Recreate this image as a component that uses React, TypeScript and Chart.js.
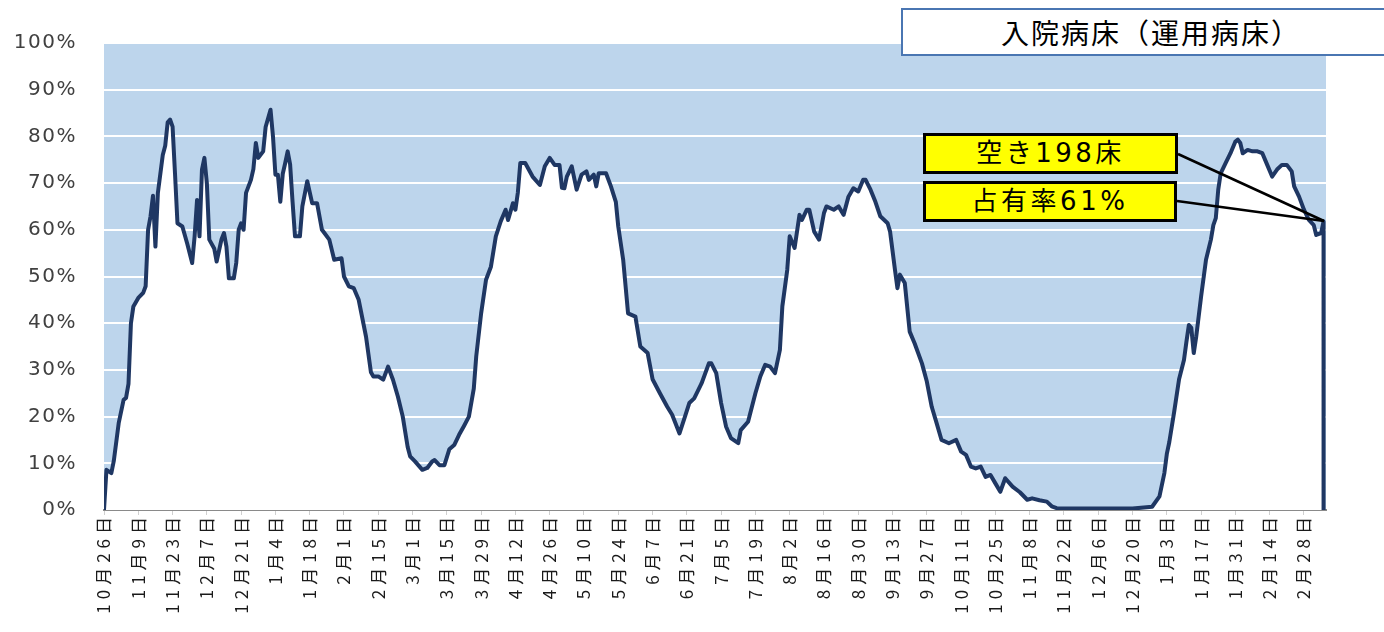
import React, { useEffect, useRef } from 'react';
import { Chart, registerables } from 'chart.js';

Chart.register(...registerables);

const tickLabels = [
  '10月26日', '11月9日', '11月23日', '12月7日', '12月21日', '1月4日', '1月18日', '2月1日', '2月15日',
  '3月1日', '3月15日', '3月29日', '4月12日', '4月26日', '5月10日', '5月24日', '6月7日', '6月21日',
  '7月5日', '7月19日', '8月2日', '8月16日', '8月30日', '9月13日', '9月27日', '10月11日', '10月25日',
  '11月8日', '11月22日', '12月6日', '12月20日', '1月3日', '1月17日', '1月31日', '2月14日', '2月28日',
];
const tickStepDays = 14;
const lastDay = 499;

const yTicks = [0, 10, 20, 30, 40, 50, 60, 70, 80, 90, 100];

// day offset from 10月26日
const dayIndex = [
  0, 1, 3, 4, 6, 8, 9, 10, 11, 12, 14, 16, 17, 18, 19, 20, 21, 22, 24, 25, 26, 27, 28, 29, 30, 32, 34, 36, 37, 38, 39, 40, 41, 42, 43, 45, 46, 48, 49, 50,
  51, 53, 54, 55, 56, 57, 58, 60, 61, 62, 63, 65, 66, 68, 69, 70, 71, 72, 73, 74, 75, 76, 77, 78, 80, 81, 83, 85, 87, 89,
  90, 92, 94, 97, 98, 100, 102, 104, 107, 109, 110, 112, 114, 116, 118, 120, 122, 124, 125, 127, 130, 132, 134, 135, 137, 139,
  141, 143, 145, 147, 149, 150, 151, 152, 154, 156, 158, 160, 162, 164, 165, 167, 168, 169, 170, 172, 175, 178, 180, 182, 184, 186,
  187, 188, 189, 191, 193, 195, 197, 198, 200, 201, 202, 205, 207, 209, 210, 212, 214, 217, 219, 222, 224, 227, 230, 232, 235, 237,
  239, 241, 244, 247, 248, 250, 252, 254, 256, 259, 260, 263, 266, 268, 270, 272, 274, 276, 277, 279, 280, 282, 284, 285, 287, 288,
  290, 292, 294, 295, 298, 300, 302, 304, 306, 308, 310, 311, 313, 315, 317, 320, 321, 323, 324, 325, 327, 329, 331, 334, 336, 338,
  340, 342, 345, 348, 350, 352, 354, 356, 358, 360, 362, 364, 366, 368, 371, 374, 377, 379, 382, 385, 387, 389, 395, 400, 410, 420,
  428, 431, 433, 434, 435, 437, 439, 441, 442, 443, 444, 445, 446, 448, 450, 452, 453, 454, 455, 456, 458, 460, 462, 463, 464, 465,
  467, 469, 471, 473, 475, 477, 479, 481, 483, 485, 486, 488, 490, 492, 494, 495, 497, 498, 498,
];

// 病床占有率 (%)
const occupancy = [
  0, 8.6, 7.9, 10.5, 18.6, 23.6, 24, 27, 40, 43.6, 45.4, 46.5, 47.9, 60, 62.9, 67.3, 56.4, 67.9, 76, 78, 83, 83.6, 82.1, 72, 61.4, 60.7, 57, 52.9, 58.6, 66.4, 58.6, 72.9, 75.4, 70, 57.9, 56, 53.2, 58, 59.3, 56.4,
  49.6, 49.6, 52.9, 60, 61.4, 60, 67.9, 70.7, 73, 78.6, 75.4, 76.8, 82, 85.7, 80, 71.8, 71.8, 66, 72, 74.3, 76.8, 74, 66, 58.6, 58.6, 65, 70.4, 65.7, 65.7, 60,
  59.3, 57.9, 53.6, 53.9, 50, 47.9, 47.5, 45, 37.1, 29.5, 28.6, 28.6, 27.9, 30.7, 27.9, 24.3, 20, 13.5, 11.5, 10.4, 8.6, 9, 10.4, 10.7, 9.6, 9.6,
  13, 13.9, 16.1, 18, 20, 23, 26, 32.9, 42.1, 49.3, 52.1, 58.6, 61.8, 64.3, 62.1, 65.7, 64.3, 68, 74.3, 74.3, 71.4, 69.6, 73.6, 75.4, 73.9, 73.9,
  69, 68.9, 71.4, 73.6, 68.6, 71.8, 72.5, 70.7, 71.8, 69.3, 72.1, 72.1, 69.3, 66, 60.7, 53.6, 42.1, 41.4, 35, 33.6, 28, 25, 22.1, 20.4, 16.4, 19.6,
  22.9, 23.9, 27.1, 31.4, 31.4, 29.3, 22.9, 17.9, 15.4, 14.3, 17.1, 18.9, 25, 28.6, 31.1, 30.7, 29.3, 34.3, 43.6, 51.4, 58.6, 56.1, 63.2, 62.1, 64.3, 64.3,
  59.6, 57.9, 63.6, 65, 64.3, 65, 63.2, 67.1, 68.9, 68.2, 70.7, 70.7, 68.6, 66, 62.9, 61.4, 59.6, 51.4, 47.5, 50.4, 48.6, 38.2, 35.7, 31.4, 27.5, 22.1,
  18.6, 15, 14.3, 15, 12.5, 11.8, 9.3, 8.9, 9.3, 7.1, 7.5, 5.7, 3.9, 6.8, 5, 3.8, 2.2, 2.5, 2.1, 1.8, 0.8, 0.4, 0.3, 0.3, 0.3, 0.3,
  0.7, 2.9, 7.9, 12, 14.5, 21, 28, 32.1, 36, 39.6, 39, 33.6, 37.1, 45.7, 53.6, 57.9, 61, 62.5, 68.6, 72.1, 74.3, 76.4, 78.9, 79.3, 78.6, 76.4,
  77.1, 76.8, 76.8, 76.4, 73.9, 71.4, 72.9, 73.9, 73.9, 72.5, 69.3, 67.1, 64.3, 62.1, 61, 58.9, 59.3, 61.8, 0,
];

const titleText = '入院病床（運用病床）';
const vacantText = '空き198床';
const rateText = '占有率61%';

const plotBackground = {
  id: 'plotBackground',
  beforeDraw(chart: any) {
    const { ctx, chartArea } = chart;
    if (!chartArea) return;
    ctx.save();
    ctx.fillStyle = '#bdd5ec';
    ctx.fillRect(chartArea.left, chartArea.top, chartArea.right - chartArea.left, chartArea.bottom - chartArea.top);
    ctx.restore();
  },
};

// draw a scale's tick labels with extra letter spacing
function spaceLabels(s: any, spacing: string) {
  if (s.__spaced) return;
  const orig = s.drawLabels.bind(s);
  s.drawLabels = (area: any) => {
    const ctx = s.ctx;
    const prev = ctx.letterSpacing;
    ctx.letterSpacing = spacing;
    orig(area);
    ctx.letterSpacing = prev;
  };
  s.__spaced = true;
}

function OccupancyChart() {
  const ref = useRef<HTMLCanvasElement | null>(null);
  useEffect(() => {
    if (!ref.current) return;
    const points = dayIndex.map((d, i) => ({ x: d, y: occupancy[i] }));
    const chart = new Chart(ref.current, {
      type: 'line',
      data: {
        datasets: [
          {
            data: points,
            borderColor: '#1f3763',
            borderWidth: 4,
            backgroundColor: '#ffffff',
            fill: 'origin',
            pointRadius: 0,
            tension: 0,
            borderJoinStyle: 'round',
            borderCapStyle: 'round',
          },
        ],
      },
      options: {
        responsive: false,
        animation: false,
        layout: { padding: { top: 43, right: 58, left: 0, bottom: 0 } },
        plugins: { legend: { display: false }, tooltip: { enabled: false } },
        scales: {
          x: {
            type: 'linear',
            min: 0,
            max: lastDay,
            afterBuildTicks: (s: any) => {
              s.ticks = tickLabels.map((_, i) => ({ value: i * tickStepDays }));
            },
            afterFit: (s: any) => {
              s.height = 122;
              spaceLabels(s, '5px');
            },
            ticks: {
              autoSkip: false,
              minRotation: 90,
              maxRotation: 90,
              padding: -3,
              color: '#1a1a1a',
              font: { family: '"Noto Sans CJK JP", sans-serif', size: 17 },
              callback: (v: any) => tickLabels[Math.round(Number(v) / tickStepDays)] ?? '',
            },
            grid: { drawOnChartArea: false, drawTicks: true, tickLength: 5, color: '#d0d0d0' },
            border: { display: true, color: '#8a8a8a', width: 2 },
          },
          y: {
            min: 0,
            max: 100,
            afterBuildTicks: (s: any) => {
              s.ticks = yTicks.map((v) => ({ value: v }));
            },
            afterFit: (s: any) => {
              s.width = 104;
              spaceLabels(s, '1.5px');
            },
            ticks: {
              padding: 27,
              color: '#404040',
              font: { family: '"DejaVu Sans", sans-serif', size: 20 },
              callback: (v: any) => `${v}%`,
            },
            grid: { color: '#ffffff', lineWidth: 2, drawTicks: false },
            border: { display: false },
          },
        },
      },
      plugins: [plotBackground],
    });
    return () => chart.destroy();
  }, []);
  return <canvas ref={ref} width={1384} height={632} style={{ position: 'absolute', left: 0, top: 0 }} />;
}

export default function App() {
  const jp = '"DejaVu Sans", "Noto Sans CJK JP", sans-serif';
  return (
    <div style={{ position: 'fixed', left: 0, top: 0, width: 1384, height: 632, overflow: 'hidden', background: '#fff' }}>
      <OccupancyChart />
      <div
        style={{
          position: 'absolute', left: 901, top: 8, width: 500, height: 48, boxSizing: 'border-box',
          border: '2px solid #4a76b2', background: '#fff', paddingLeft: 98,
          fontFamily: '"Noto Sans CJK JP", sans-serif', fontSize: 28, lineHeight: '44px', color: '#000',
          whiteSpace: 'nowrap', letterSpacing: 2,
        }}
      >
        {titleText}
      </div>
      <svg width={1384} height={632} style={{ position: 'absolute', left: 0, top: 0, pointerEvents: 'none' }}>
        <line x1={1178} y1={154} x2={1324} y2={221} stroke="#000" strokeWidth={2.5} />
        <line x1={1177} y1={201} x2={1324} y2={221} stroke="#000" strokeWidth={2.5} />
      </svg>
      <div
        style={{
          position: 'absolute', left: 923, top: 133, width: 255, height: 41, boxSizing: 'border-box',
          border: '3px solid #000', background: '#ffff00', textAlign: 'center',
          fontFamily: jp, fontSize: 26, lineHeight: '35px', color: '#000', letterSpacing: 3.5, whiteSpace: 'nowrap',
        }}
      >
        {vacantText}
      </div>
      <div
        style={{
          position: 'absolute', left: 923, top: 181, width: 254, height: 41, boxSizing: 'border-box',
          border: '3px solid #000', background: '#ffff00', textAlign: 'center',
          fontFamily: jp, fontSize: 26, lineHeight: '35px', color: '#000', letterSpacing: 3.5, whiteSpace: 'nowrap',
        }}
      >
        {rateText}
      </div>
    </div>
  );
}
